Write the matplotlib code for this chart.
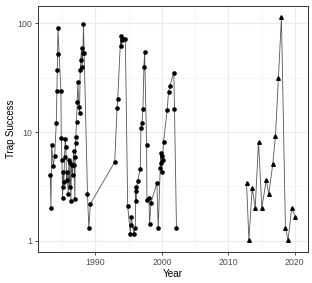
import matplotlib
matplotlib.use("Agg")
import matplotlib.pyplot as plt
from matplotlib.ticker import FixedLocator, NullFormatter

# Series 1 (circles), 1983-2002
years1 = [1983.2, 1983.3, 1983.4, 1983.65, 1983.85, 1984.1, 1984.2, 1984.25, 1984.3, 1984.35,
          1984.8, 1984.85, 1984.95, 1985.05, 1985.1, 1985.15, 1985.25, 1985.35, 1985.45, 1985.55,
          1985.65, 1985.75, 1985.9, 1986.0, 1986.1, 1986.2, 1986.3, 1986.4, 1986.55, 1986.7,
          1986.8, 1986.9, 1986.95, 1987.0, 1987.05, 1987.15, 1987.25, 1987.35, 1987.5, 1987.6,
          1987.7, 1987.8, 1987.9, 1988.0, 1988.1, 1988.2, 1988.3, 1988.8, 1989.0, 1989.25,
          1992.9, 1993.25, 1993.35, 1993.8, 1993.9, 1994.05, 1994.2, 1994.5, 1994.85, 1995.25,
          1995.3, 1995.4, 1995.75, 1996.0, 1996.05, 1996.1, 1996.15, 1996.35, 1996.75, 1996.85,
          1997.0, 1997.15, 1997.3, 1997.4, 1997.7, 1997.75, 1998.05, 1998.15, 1998.35, 1999.25,
          1999.45, 1999.75, 1999.85, 1999.9, 1999.95, 2000.0, 2000.1, 2000.25, 2000.8, 2001.0,
          2001.2, 2001.8, 2001.9, 2002.2]
values1 = [4.0, 2.0, 7.6, 4.9, 6.0, 12, 24, 37, 52, 90,
           24, 8.9, 5.5, 2.5, 3.15, 4.3, 3.5, 5.9, 8.6, 7.3,
           3.6, 4.3, 2.7, 5.5, 3.15, 5.2, 2.3, 5.0, 4.0, 6.7,
           5.0, 2.4, 5.9, 7.9, 9.0, 12.3, 18.8, 29, 17, 15,
           37, 46, 60, 39.5, 53, 98, 53, 2.7, 1.32, 2.2,
           5.3, 16.5, 20, 77, 62, 70, 72, 72, 2.1, 1.16,
           1.4, 1.66, 1.16, 1.32, 3.15, 2.3, 2.9, 3.55, 4.6, 10.8,
           12, 16.3, 40, 54.5, 7.6, 2.38, 2.5, 1.43, 2.23, 3.4,
           1.3, 4.65, 6.4, 5.2, 4.3, 6.0, 5.5, 8.1, 16, 23.3,
           26.5, 35.3, 16.2, 1.3]

# Series 2 (triangles), 2013-2020
years2 = [2012.75, 2013.1, 2013.6, 2014.05, 2014.55, 2015.05, 2015.7, 2016.1, 2016.7, 2017.1,
          2017.55, 2018.0, 2018.6, 2019.0, 2019.55, 2020.1]
values2 = [3.4, 1.02, 3.06, 2.0, 8.15, 2.0, 3.6, 2.7, 5.1, 9.2,
           31.7, 114, 1.32, 1.02, 2.0, 1.67]

x_ticks = [1990, 2000, 2010, 2020]
x_minor = [1985, 1995, 2005, 2015]
y_ticks = [1, 10, 100]
y_tick_labels = ["1", "10", "100"]
y_minor = [3.162, 31.62]

plt.rcParams['font.family'] = ['Liberation Sans', 'DejaVu Sans']

fig = plt.figure(figsize=(3.12, 2.83), dpi=100)
ax = fig.add_axes([38/312, 1-252/283, 270/312, 246/283])

line_col = "#555555"
ax.plot(years1, values1, color=line_col, lw=0.6, zorder=3)
ax.plot(years1, values1, 'o', color="black", ms=2.3, zorder=4)
ax.plot(years2, values2, color=line_col, lw=0.6, zorder=3)
ax.plot(years2, values2, '^', color="black", ms=2.6, zorder=4)

ax.set_yscale('log')
ax.set_xlim(1981.35, 2022.0)
ax.set_ylim(10**-0.103, 10**2.16)

ax.xaxis.set_major_locator(FixedLocator(x_ticks))
ax.xaxis.set_minor_locator(FixedLocator(x_minor))
ax.yaxis.set_major_locator(FixedLocator(y_ticks))
ax.yaxis.set_minor_locator(FixedLocator(y_minor))
ax.yaxis.set_minor_formatter(NullFormatter())
ax.set_yticklabels(y_tick_labels)

ax.grid(True, which='major', color="#EBEBEB", lw=0.8, zorder=0)
ax.grid(True, which='minor', color="#F3F3F3", lw=0.5, zorder=0)
ax.set_axisbelow(True)

ax.tick_params(which='major', length=2.5, width=0.6, color="#333333",
               labelsize=6.3, labelcolor="#4D4D4D", pad=1.5)
ax.tick_params(which='minor', length=0)
for s in ax.spines.values():
    s.set_color("#333333")
    s.set_linewidth(0.7)

ax.set_xlabel("Year", fontsize=7.2, color="black", labelpad=2)
ax.set_ylabel("Trap Success", fontsize=6.9, color="black", labelpad=1)

fig.savefig("out.png", dpi=100)
